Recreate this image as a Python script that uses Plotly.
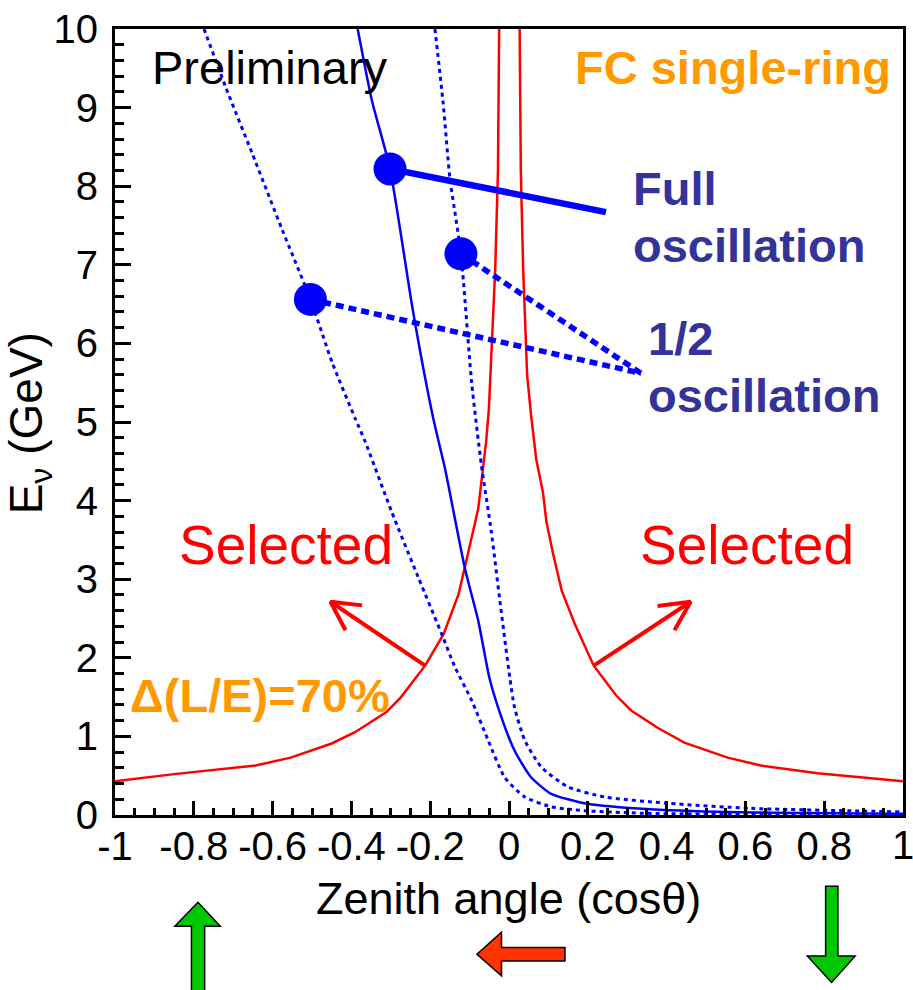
import plotly.graph_objects as go

# ---------------- data ----------------
red_left_cos = [-1.0, -0.85, -0.643, -0.554, -0.45, -0.392, -0.311, -0.274, -0.213, -0.166,
                -0.128, -0.116, -0.103, -0.078, -0.068, -0.058, -0.051, -0.047, -0.035, -0.028, -0.025]
red_left_E = [0.43, 0.52, 0.63, 0.73, 0.91, 1.05, 1.31, 1.50, 1.90, 2.30,
              2.81, 3.06, 3.35, 3.90, 4.33, 4.75, 5.17, 5.60, 6.94, 8.2, 10.0]

red_right_cos = [0.027, 0.030, 0.036, 0.046, 0.056, 0.069, 0.086, 0.095, 0.112, 0.134,
                 0.167, 0.215, 0.272, 0.310, 0.377, 0.445, 0.555, 0.639, 0.783, 1.0]
red_right_E = [10.0, 8.2, 6.94, 5.6, 5.09, 4.53, 4.11, 3.73, 3.32, 2.85,
               2.43, 1.90, 1.52, 1.33, 1.11, 0.92, 0.73, 0.63, 0.53, 0.43]

full_cos = [-0.384, -0.348, -0.302, -0.243, -0.192, -0.163, -0.112, -0.078, -0.049, -0.019,
            0.014, 0.056, 0.107, 0.191, 0.318, 0.528, 1.0]
full_E = [10.0, 9.09, 8.22, 6.39, 5.04, 4.42, 3.14, 2.47, 1.73, 1.24,
          0.82, 0.48, 0.27, 0.15, 0.085, 0.04, 0.015]

half_low_cos = [-0.774, -0.719, -0.652, -0.576, -0.504, -0.449, -0.390, -0.365, -0.298, -0.230,
                -0.169, -0.137, -0.095, -0.053, -0.011, 0.040, 0.107, 0.191, 0.36, 1.0]
half_low_E = [10.0, 9.26, 8.42, 7.45, 6.56, 5.76, 5.04, 4.75, 3.86, 3.02,
              2.28, 1.88, 1.46, 0.95, 0.48, 0.23, 0.105, 0.055, 0.02, 0.005]

half_high_cos = [-0.188, -0.167, -0.150, -0.122, -0.095, -0.070, -0.045, -0.024, 0.002, 0.014,
                 0.040, 0.082, 0.149, 0.242, 0.402, 0.613, 1.0]
half_high_E = [10.0, 9.05, 8.1, 7.14, 5.51, 4.45, 3.61, 2.76, 1.75, 1.37,
               0.95, 0.61, 0.36, 0.23, 0.15, 0.085, 0.04]

# marker points and their label pointers
full_dot_cos, full_dot_E = [-0.302], [8.22]
half_dot_cos, half_dot_E = [-0.504, -0.122], [6.56, 7.14]
full_label_cos, full_label_E = 0.246, 7.67
half_label_cos, half_label_E = 0.335, 5.62

# "Selected" arrows: base on red curve, tip, two head ends
sel_left = dict(base=(-0.213, 1.90), tip=(-0.453, 2.713), h1=(-0.373, 2.667), h2=(-0.415, 2.351))
sel_right = dict(base=(0.215, 1.90), tip=(0.461, 2.713), h1=(0.377, 2.658), h2=(0.420, 2.351))

x_ticks = [-1, -0.8, -0.6, -0.4, -0.2, 0, 0.2, 0.4, 0.6, 0.8, 1]
x_ticktext = ["-1", "-0.8", "-0.6", "-0.4", "-0.2", "0", "0.2", "0.4", "0.6", "0.8", "1"]
y_ticks = list(range(0, 11))
y_ticktext = [str(v) for v in y_ticks]

# ---------------- figure ----------------
W, H = 913, 990
L, R, T, B = 115, 7, 25, 175
PW, PH = W - L - R, H - T - B

def pxx(p):
    return (p - L) / PW

def pxy(p):
    return (H - B - p) / PH

FONT = "Arial, Liberation Sans, Helvetica, sans-serif"
BLUE = "#0000ff"
RED = "#ff0000"
ORANGE = "#ff9900"
NAVY = "#333399"

fig = go.Figure()

fig.add_trace(go.Scatter(x=red_left_cos, y=red_left_E, mode="lines",
                         line=dict(color=RED, width=2.5)))
fig.add_trace(go.Scatter(x=red_right_cos, y=red_right_E, mode="lines",
                         line=dict(color=RED, width=2.5)))
fig.add_trace(go.Scatter(x=half_low_cos, y=half_low_E, mode="lines",
                         line=dict(color=BLUE, width=3, dash="4px,4px", shape="spline", smoothing=0.6)))
fig.add_trace(go.Scatter(x=half_high_cos, y=half_high_E, mode="lines",
                         line=dict(color=BLUE, width=3, dash="4px,4px", shape="spline", smoothing=0.6)))
fig.add_trace(go.Scatter(x=full_cos, y=full_E, mode="lines",
                         line=dict(color=BLUE, width=2.5, shape="spline", smoothing=0.6)))

# pointer lines
fig.add_trace(go.Scatter(x=[full_dot_cos[0], full_label_cos], y=[full_dot_E[0], full_label_E],
                         mode="lines", line=dict(color=BLUE, width=6.5)))
for c, e in zip(half_dot_cos, half_dot_E):
    fig.add_trace(go.Scatter(x=[c, half_label_cos], y=[e, half_label_E], mode="lines",
                             line=dict(color=BLUE, width=5.5, dash="8px,5px")))

# markers
fig.add_trace(go.Scatter(x=full_dot_cos + half_dot_cos, y=full_dot_E + half_dot_E, mode="markers",
                         marker=dict(color=BLUE, size=33, line=dict(width=0))))

# "Selected" arrows
for a in (sel_left, sel_right):
    fig.add_trace(go.Scatter(x=[a["base"][0], a["tip"][0]], y=[a["base"][1], a["tip"][1]],
                             mode="lines", line=dict(color=RED, width=4)))
    fig.add_trace(go.Scatter(x=[a["h1"][0], a["tip"][0], a["h2"][0]],
                             y=[a["h1"][1], a["tip"][1], a["h2"][1]],
                             mode="lines", line=dict(color=RED, width=4)))

# ---------------- texts ----------------
def txt(text, x, y, size, color, bold=False, xanchor="left", angle=0):
    fig.add_annotation(text=("<b>%s</b>" % text) if bold else text,
                       x=pxx(x), y=pxy(y), xref="paper", yref="paper",
                       xanchor=xanchor, yanchor="middle", showarrow=False,
                       textangle=angle, font=dict(family=FONT, size=size, color=color))

txt("Preliminary", 150, 64, 47, "black")
txt("FC single-ring", 896, 64, 47, ORANGE, bold=True, xanchor="right")
txt("Full", 633, 185, 47, NAVY, bold=True)
txt("oscillation", 633, 243, 47, NAVY, bold=True)
txt("1/2", 648, 336, 47, NAVY, bold=True)
txt("oscillation", 648, 393, 47, NAVY, bold=True)
txt("Selected", 287, 544, 55, RED, xanchor="center")
txt("Selected", 749, 544, 55, RED, xanchor="center")
txt("\u0394(L/E)=70%", 128, 695, 47, ORANGE, bold=True)
txt("Zenith angle (cos\u03b8)", 510, 899, 45, "black", xanchor="center")
txt("E<sub>\u03bd</sub> (GeV)", 30, 421, 46, "black", xanchor="center", angle=-90)
# last x tick label sits on the figure edge (drawn as text so it is not dropped)
txt(x_ticktext[-1], 906, 845, 40, "black", xanchor="center")

# ---------------- bottom direction arrows (drawn shapes) ----------------
def path(points):
    return "M " + " L ".join("%.4f,%.4f" % (pxx(a), pxy(b)) for a, b in points) + " Z"

GREEN = "#00c800"
ORED = "#ff3300"
up_arrow = [(191.7, 1000), (191.7, 926.7), (175, 926.7), (198.3, 902.7), (220.7, 926.7), (205, 926.7), (205, 1000)]
left_arrow = [(566.7, 948.3), (503, 948.3), (503, 932.7), (478.3, 955), (503, 976.7), (503, 961.7), (566.7, 961.7)]
down_arrow = [(828.3, 886.7), (828.3, 956.7), (810, 956.7), (834.3, 983.3), (858, 956.7), (840.7, 956.7), (840.7, 886.7)]
for pts, col in ((up_arrow, GREEN), (left_arrow, ORED), (down_arrow, GREEN)):
    fig.add_shape(type="path", path=path(pts), xref="paper", yref="paper",
                  fillcolor=col, line=dict(color="black", width=1.5), layer="above")

axis_common = dict(showgrid=False, zeroline=False, showline=True, linecolor="black", linewidth=3,
                   mirror=True, ticks="inside", tickcolor="black", tickwidth=3,
                   tickfont=dict(family=FONT, size=40, color="black"))

fig.update_xaxes(range=[-1, 1], tickvals=x_ticks[:-1], ticktext=x_ticktext[:-1], ticklen=14,
                 minor=dict(dtick=0.05, tick0=0, ticks="inside", ticklen=7, tickwidth=2.5, tickcolor="black"),
                 ticklabelstandoff=-6, **axis_common)
fig.update_yaxes(range=[0, 10], tickvals=y_ticks, ticktext=y_ticktext, ticklen=16,
                 minor=dict(dtick=0.2, tick0=0, ticks="inside", ticklen=9, tickwidth=2.5, tickcolor="black"),
                 ticklabelstandoff=6, **axis_common)

fig.update_layout(width=W, height=H, margin=dict(l=L, r=R, t=T, b=B, pad=0),
                  paper_bgcolor="white", plot_bgcolor="white", showlegend=False,
                  font=dict(family=FONT))

fig.write_html("out.html")
